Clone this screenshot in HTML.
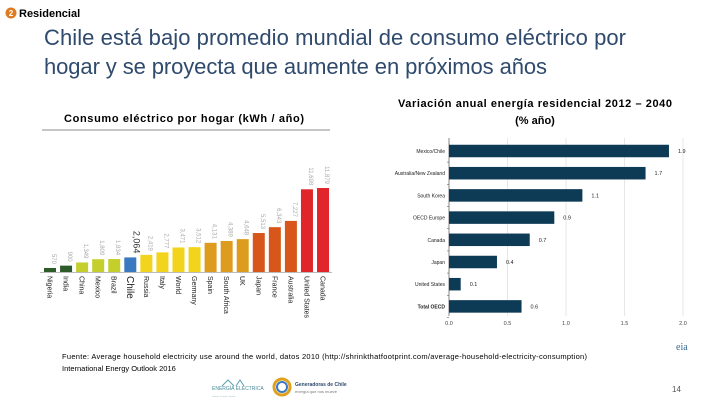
<!DOCTYPE html>
<html><head><meta charset="utf-8">
<style>
html,body{margin:0;padding:0;background:#fff;}
svg{display:block;font-family:"Liberation Sans",sans-serif;}
</style></head>
<body>
<svg id="s" width="720" height="405" viewBox="0 0 720 405" xmlns="http://www.w3.org/2000/svg">
  <circle cx="11" cy="13" r="5.5" fill="#e07a1f"/>
  <text x="11" y="16" font-size="8" fill="#fff" text-anchor="middle" font-weight="bold">2</text>
  <text x="19" y="17" font-size="11" font-weight="bold" fill="#000">Residencial</text>
  <text x="44" y="45" font-size="22" fill="#2f4a6d" textLength="582">Chile está bajo promedio mundial de consumo eléctrico por</text>
  <text x="44" y="74" font-size="22" fill="#2f4a6d" textLength="503">hogar y se proyecta que aumente en próximos años</text>
  <text x="64" y="122" font-size="11" font-weight="bold" fill="#000" textLength="240">Consumo eléctrico por hogar (kWh / año)</text>
  <line x1="42" y1="130" x2="330" y2="130" stroke="#666" stroke-width="0.8"/>
  <text x="398" y="107" font-size="11" font-weight="bold" fill="#000" textLength="274">Variación anual energía residencial 2012 – 2040</text>
  <text x="535" y="124" font-size="11" font-weight="bold" fill="#000" text-anchor="middle">(% año)</text>
  <g id="left"></g>
  <g id="right"></g>
  <text x="62" y="359" font-size="7.5" fill="#000" textLength="525">Fuente: Average household electricity use around the world, datos 2010 (http://shrinkthatfootprint.com/average-household-electricity-consumption)</text>
  <text x="62" y="371" font-size="7.5" fill="#000">International Energy Outlook 2016</text>
  <g>
    <path d="M222 386 l6 -6 l6 6 M236 386 l4 -6 l4 6" stroke="#5aa0b0" fill="none"/>
    <text x="212" y="390" font-size="5" fill="#4a8a9a">ENERGÍA ELÉCTRICA</text>
    <text x="212" y="398" font-size="4" fill="#4a8a9a">~~~ ~~~ ~~~</text>
  </g>
  <circle cx="282" cy="387" r="8" fill="none" stroke="#e0a020" stroke-width="3"/>
  <circle cx="282" cy="387" r="5" fill="none" stroke="#3a78c0" stroke-width="2"/>
  <text x="295" y="386" font-size="5" fill="#2f4a6d" font-weight="bold">Generadoras de Chile</text>
  <text x="295" y="393" font-size="4" fill="#777">energía que nos mueve</text>
  <text x="672" y="392" font-size="8" fill="#555">14</text>
  <text x="676" y="350" font-size="10" fill="#3a6a90" font-family="Liberation Serif,serif">eia</text>
</svg>
<script>
const countries = ["Nigeria","India","China","Mexico","Brazil","Chile","Russia","Italy","World","Germany","Spain","South Africa","UK","Japan","France","Australia","United States","Canada"];
const consumption = [570,900,1349,1809,1834,2064,2419,2777,3471,3512,4131,4389,4648,5513,6343,7227,11698,11879];
const consumptionLabels = ["570","900","1,349","1,809","1,834","2,064","2,419","2,777","3,471","3,512","4,131","4,389","4,648","5,513","6,343","7,227","11,698","11,879"];
const colorGroups = [0,0,1,1,1,2,3,3,3,3,4,4,4,5,5,5,6,6];

const regions = ["Mexico/Chile","Australia/New Zealand","South Korea","OECD Europe","Canada","Japan","United States","Total OECD"];
const growth = [1.88,1.68,1.14,0.9,0.69,0.41,0.1,0.62];
const growthLabels = ["1.9","1.7","1.1","0.9","0.7","0.4","0.1","0.6"];
const growthTicks = [0,0.5,1,1.5,2];
const growthTickLabels = ["0.0","0.5","1.0","1.5","2.0"];

const NS="http://www.w3.org/2000/svg";
function mk(tag,attrs,parent,txt){const e=document.createElementNS(NS,tag);for(const k in attrs)e.setAttribute(k,attrs[k]);if(txt!==undefined)e.textContent=txt;parent.appendChild(e);return e;}
const palette=["#2e5b2a","#c4cf2c","#3a78c0","#f3d41c","#de9c1e","#d8561a","#e0262a"];

// left chart
const gL=document.getElementById('left');
const baseY=272, lx0=44, pitch=16.06, bw=12;
const yL=v=>baseY - v*0.00707;
mk('line',{x1:40,y1:baseY+0.5,x2:332,y2:baseY+0.5,stroke:'#bbb','stroke-width':1},gL);
countries.forEach((c,i)=>{
  const x=lx0+i*pitch, y=yL(consumption[i]);
  const r=mk('rect',{x:x,y:y,width:bw,height:baseY-y,fill:palette[colorGroups[i]]},gL);
  
  
  const isChile=c==="Chile";
  const t=mk('text',{x:0,y:0,'font-size':isChile?9:6,fill:isChile?'#333':'#aaa',transform:`translate(${x+bw/2+(isChile?3:2)},${y-4}) rotate(90)`,'text-anchor':'end'},gL,consumptionLabels[i]);
  
  
  const l=mk('text',{x:0,y:0,'font-size':isChile?10:7,fill:'#222',transform:`translate(${x+bw/2-(isChile?3.5:2.5)},${baseY+4}) rotate(90)`},gL,c);
  
  
});

// right chart
const gR=document.getElementById('right');
const ax0=449, xScale=117, plotTop=140, step=22.2, bh=12.5;
const xR=v=>ax0+v*xScale;
growthTicks.forEach((t,i)=>{
  if(i>0){const g=mk('line',{x1:xR(t),y1:138,x2:xR(t),y2:316,stroke:'#ddd','stroke-width':0.7},gR);
  }
  const tl=mk('text',{x:xR(t),y:325,'font-size':5.5,fill:'#444','text-anchor':'middle'},gR,growthTickLabels[i]);
  
  
});
mk('line',{x1:ax0,y1:138,x2:ax0,y2:316,stroke:'#666','stroke-width':0.8},gR);
regions.forEach((r,i)=>{
  const cy=plotTop+11+i*step;
  const b=mk('rect',{x:ax0,y:cy-bh/2,width:xR(growth[i])-ax0,height:bh,fill:'#0d3a55'},gR);
  
  
  const v=mk('text',{x:xR(growth[i])+9,y:cy+2,'font-size':5.5,fill:'#222'},gR,growthLabels[i]);
  
  
  const lb=mk('text',{x:445,y:cy+2,'font-size':5,fill:'#222','text-anchor':'end','font-weight':i===7?'bold':'normal'},gR,r);
  
  
  mk('line',{x1:ax0-2,y1:cy+step/2,x2:ax0,y2:cy+step/2,stroke:'#666','stroke-width':0.6},gR);
});
</script>
</body></html>
